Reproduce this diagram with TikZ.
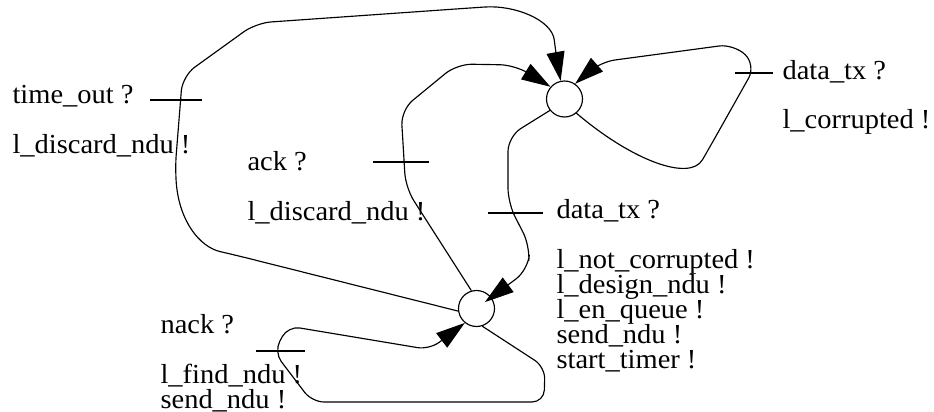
\documentclass[tikz,border=0pt]{standalone}
\usepackage{fontspec}
\setmainfont{Liberation Serif}[FakeStretch=1.035]
\usetikzlibrary{arrows.meta}
\begin{document}
\begin{tikzpicture}[x=1pt,y=-1pt,line width=1.15pt,
  state/.style={circle,draw,minimum size=36pt,inner sep=0pt},
  edge/.style={draw,-{Triangle[length=29pt,width=18pt]}},
  lbl/.style={anchor=base west,inner sep=0pt,font=\fontsize{27.5pt}{25pt}\selectfont},
  tick/.style={draw}]
\useasboundingbox (0,0) rectangle (934,412);

\node[state] (c1) at (564.5,99) {};
\node[state] (c2) at (476.5,308.5) {};

% time_out ? : c2 -> c1
\draw[edge,rounded corners=15pt] (c2.188) -- (235,255) .. controls (200,247) and (180,222) .. (175,170)
  -- (182.5,76) -- (256,23) -- (470,8) .. controls (515,5) and (552,20) .. (556,55) -- (c1.102);
% ack ? : c2 -> c1
\draw[edge,rounded corners=15pt] (c2.106) -- (405.7,188) -- (401,110) -- (457,64) -- (515,65) -- (c1.139);
% data_tx ? : c1 -> c2
\draw[edge,rounded corners=15pt,shorten >=-8pt] (c1.218) -- (508,136.5) -- (508,203) -- (530,246) -- (528,270) -- (c2.37);
% data_tx ? self loop on c1
\draw[edge,rounded corners=15pt] (c1.-50) .. controls (633.6,161.8) and (690,181.3) .. (710,146.7)
  -- (756,65) -- (734,44) -- (600,62) -- (c1.55);
% nack ? self loop on c2
\draw[edge,rounded corners=12pt] (c2.-72) -- (545,367) -- (544,402) -- (312,402) -- (274,352) -- (288,326) -- (429.5,349.6) -- (c2.231);

% transition ticks
\draw[tick] (150,100) -- (202,100);
\draw[tick] (373,162) -- (429,162);
\draw[tick] (488,213) -- (543,213);
\draw[tick] (735,73) -- (773,73);
\draw[tick] (256,351) -- (305,351);

% labels
\node[lbl] (t1) at (12,103) {time\_out ?};
\node[lbl] (t2) at (12,153) {l\_discard\_ndu !};
\node[lbl] (a1) at (247,170) {ack ?};
\node[lbl] (a2) at (247,220) {l\_discard\_ndu !};
\node[lbl] (d1) at (556,218) {data\_tx ?};
\node[lbl] (d2) at (556,268) {l\_not\_corrupted !};
\node[lbl] (d3) at (556,293) {l\_design\_ndu !};
\node[lbl] (d4) at (556,318) {l\_en\_queue !};
\node[lbl] (d5) at (556,343) {send\_ndu !};
\node[lbl] (d6) at (556,368) {start\_timer !};
\node[lbl] (r1) at (782,79) {data\_tx ?};
\node[lbl] (r2) at (782,128) {l\_corrupted !};
\node[lbl] (n1) at (160,333) {nack ?};
\node[lbl] (n2) at (160,383) {l\_find\_ndu !};
\node[lbl] (n3) at (160,408) {send\_ndu !};
\end{tikzpicture}
\end{document}
